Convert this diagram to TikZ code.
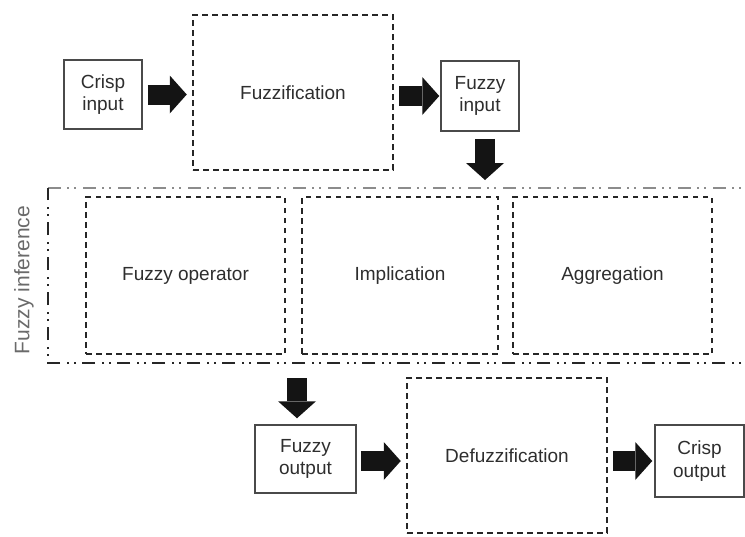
\documentclass[tikz,border=0pt]{standalone}
\usepackage{fontspec}
\setmainfont{Liberation Sans}
\usetikzlibrary{arrows.meta}
\definecolor{ink}{HTML}{2E2E2E}
\definecolor{boxgray}{HTML}{4A4A4A}
\definecolor{dashink}{HTML}{262626}
\definecolor{labelgray}{HTML}{6A6A6A}
\definecolor{toprule}{HTML}{8C8C8C}
\begin{document}
\begin{tikzpicture}[x=1pt,y=-1pt,
  every node/.style={font=\fontsize{19}{22.5}\selectfont, text=ink, align=center, inner sep=0pt},
  solidbox/.style={draw=boxgray, line width=1.5pt},
  dashbox/.style={draw=dashink, line width=2.5pt, dash pattern=on 6pt off 4pt},
  stagebox/.style={draw=dashink, line width=2.2pt, dash pattern=on 5.5pt off 4.5pt},
  frameline/.style={draw=dashink, line width=2.5pt, dash pattern=on 13pt off 6pt on 2pt off 5pt on 2pt off 7pt},
  frametopline/.style={draw=toprule, line width=2pt, dash pattern=on 13pt off 6pt on 2pt off 5pt on 2pt off 7pt},
  blockarrow/.style={draw=black!92, line width=20pt,
    -{Triangle[width=38pt, length=17pt, line width=0pt]}}]
  \useasboundingbox (0,0) rectangle (745,536);

  % input stage
  \node[solidbox, minimum width=78pt, minimum height=69pt] (cin) at (103,94.5) {Crisp\\input};
  \node[dashbox, minimum width=200pt, minimum height=155pt] (fuzz) at (293,92.5) {Fuzzification};
  \node[solidbox, minimum width=78pt, minimum height=70pt] (fin) at (480,96) {Fuzzy\\input};

  % fuzzy inference frame (runs off the right edge)
  \coordinate (ftl) at (48,188);
  \coordinate (fbl) at (48,363);
  \coordinate (ftr) at (760,188);
  \coordinate (fbr) at (760,363);
  \draw[frametopline] (ftl) -- (ftr);
  \draw[frameline] (fbr) -- (fbl) -- (ftl);
  \node[rotate=90, text=labelgray, font=\fontsize{21}{24}\selectfont] (lbl) at (24,280) {Fuzzy inference};

  \node[stagebox, minimum width=199pt, minimum height=157pt] (op) at (185.5,275.5) {Fuzzy operator};
  \node[stagebox, minimum width=196pt, minimum height=157pt] (imp) at (400,275.5) {Implication};
  \node[stagebox, minimum width=199pt, minimum height=157pt] (agg) at (612.5,275.5) {Aggregation};

  % output stage
  \node[solidbox, minimum width=101pt, minimum height=68pt] (fout) at (305.5,459) {Fuzzy\\output};
  \node[dashbox, minimum width=200pt, minimum height=155pt] (defuzz) at (507,455.5) {Defuzzification};
  \node[solidbox, minimum width=89pt, minimum height=72pt] (cout) at (699.5,461) {Crisp\\output};

  % block arrows
  \draw[blockarrow, shorten <=5pt, shorten >=5pt] (cin.east) -- (cin.east -| fuzz.west);
  \draw[blockarrow, shorten <=5pt, shorten >=1pt] (fuzz.east |- fin.west) -- (fin.west);
  \draw[blockarrow, shorten <=7pt, shorten >=8pt] ([xshift=5pt]fin.south) -- ([xshift=5pt]fin.south |- ftl);
  \draw[blockarrow, shorten <=15pt, shorten >=6pt] ([xshift=-8.5pt]fout.north |- fbl) -- ([xshift=-8.5pt]fout.north);
  \draw[blockarrow, shorten <=4pt, shorten >=5pt] ([yshift=-2pt]fout.east) -- ([yshift=-2pt]fout.east -| defuzz.west);
  \draw[blockarrow, shorten <=5pt, shorten >=2pt] (defuzz.east |- cout.west) -- (cout.west);
\end{tikzpicture}
\end{document}
